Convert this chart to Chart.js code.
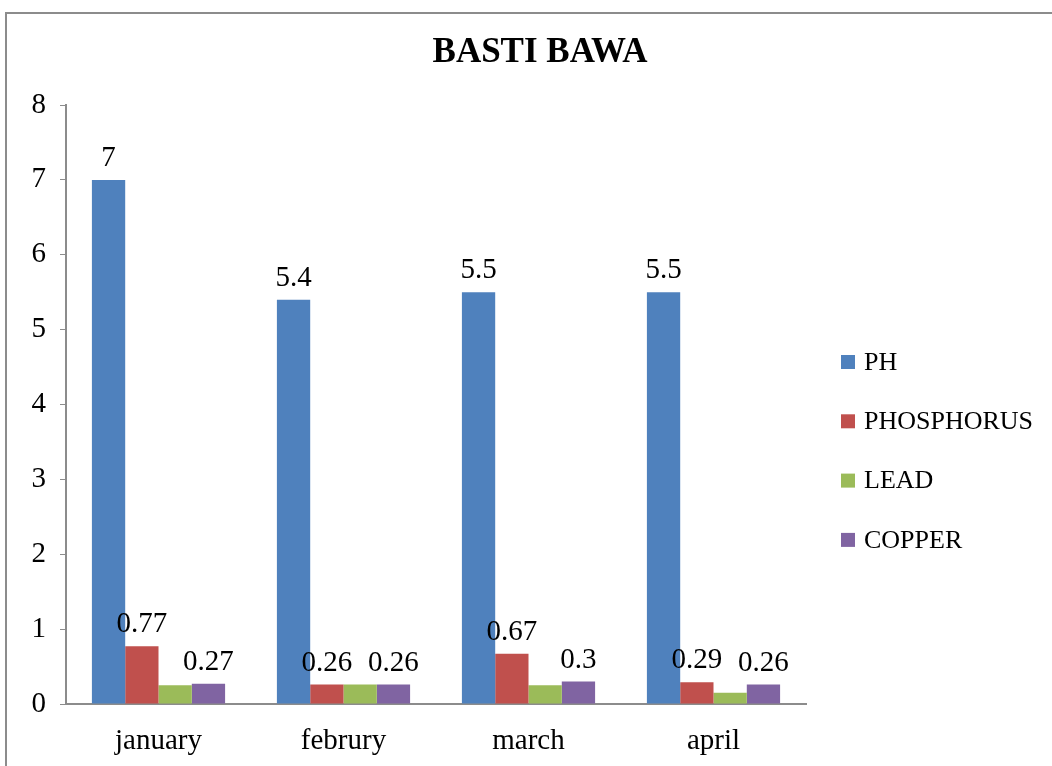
<!DOCTYPE html>
<html>
<head>
<meta charset="utf-8">
<script src="https://cdn.jsdelivr.net/npm/chart.js@4.4.0/dist/chart.umd.min.js"></script>
<style>
    html, body { margin: 0; padding: 0; background: #fff; overflow: hidden; }
    #frame { position: absolute; left: 5px; top: 12px; width: 1100px; height: 800px; border: 2px solid #8c8c8c; box-sizing: border-box; }
    #wrap { position: absolute; left: 0; top: 0; width: 1052px; height: 766px; }
</style>
</head>
<body>
<div id="frame"></div>
<div id="wrap"><canvas id="chart" width="1052" height="766"></canvas></div>
<script>
// Chart data
const categories = ['january', 'februry', 'march', 'april'];
const phValues = [7, 5.4, 5.5, 5.5];
const phosphorusValues = [0.77, 0.26, 0.67, 0.29];
const leadValues = [0.25, 0.26, 0.25, 0.15];
const copperValues = [0.27, 0.26, 0.3, 0.26];
const yTicks = [0, 1, 2, 3, 4, 5, 6, 7, 8];
const chartTitle = 'BASTI BAWA';

const serif = "'Liberation Serif', 'DejaVu Serif', serif";

// Title centred on the whole picture, not just the plot
const pageTitle = {
    id: 'pageTitle',
    afterDraw(chart) {
        const ctx = chart.ctx;
        ctx.save();
        ctx.font = 'bold 35px ' + serif;
        ctx.fillStyle = '#000';
        ctx.textAlign = 'center';
        ctx.textBaseline = 'middle';
        ctx.fillText(chartTitle, 540, 53);
        ctx.restore();
    }
};

// Value labels above bars (LEAD has no labels in the original)
const valueLabels = {
    id: 'valueLabels',
    afterDatasetsDraw(chart) {
        const ctx = chart.ctx;
        ctx.save();
        ctx.font = '29px ' + serif;
        ctx.fillStyle = '#000';
        ctx.textAlign = 'center';
        ctx.textBaseline = 'bottom';
        chart.data.datasets.forEach((ds, i) => {
            if (!ds.showLabels) return;
            chart.getDatasetMeta(i).data.forEach((bar, j) => {
                ctx.fillText(String(ds.data[j]), bar.x, bar.y - 7);
            });
        });
        ctx.restore();
    }
};

// Legend on the right, drawn by hand to match spacing
const sideLegend = {
    id: 'sideLegend',
    afterDraw(chart) {
        const ctx = chart.ctx;
        ctx.save();
        ctx.font = '26px ' + serif;
        ctx.textBaseline = 'middle';
        chart.data.datasets.forEach((ds, i) => {
            const y = 362 + i * 59.3;
            ctx.fillStyle = ds.backgroundColor;
            ctx.fillRect(841, y - 7, 14, 14);
            ctx.fillStyle = '#000';
            ctx.fillText(ds.label, 864, y + 1);
        });
        ctx.restore();
    }
};

const ctx = document.getElementById('chart').getContext('2d');
new Chart(ctx, {
    type: 'bar',
    data: {
        labels: categories,
        datasets: [
            { label: 'PH', data: phValues, backgroundColor: '#4F81BD', showLabels: true },
            { label: 'PHOSPHORUS', data: phosphorusValues, backgroundColor: '#C0504D', showLabels: true },
            { label: 'LEAD', data: leadValues, backgroundColor: '#9BBB59', showLabels: false },
            { label: 'COPPER', data: copperValues, backgroundColor: '#8064A2', showLabels: true }
        ]
    },
    options: {
        responsive: false,
        animation: false,
        devicePixelRatio: 1,
        layout: { padding: { left: 0, right: 246, top: 105, bottom: 0 } },
        datasets: {
            bar: { categoryPercentage: 0.72, barPercentage: 1.0 }
        },
        plugins: {
            legend: { display: false },
            tooltip: { enabled: false },
            title: { display: false }
        },
        scales: {
            x: {
                grid: { display: true, drawOnChartArea: false, drawTicks: false },
                border: { display: true, color: '#8c8c8c', width: 2 },
                ticks: {
                    color: '#000',
                    font: { family: serif, size: 29 },
                    padding: 20
                },
                afterFit(scale) { scale.height = 62; }
            },
            y: {
                min: 0,
                max: 8,
                afterBuildTicks(scale) { scale.ticks = yTicks.map(v => ({ value: v })); },
                grid: { display: true, drawOnChartArea: false, drawTicks: true, tickLength: 6, color: '#8c8c8c' },
                border: { display: true, color: '#8c8c8c', width: 2 },
                ticks: {
                    color: '#000',
                    font: { family: serif, size: 29 },
                    padding: 14
                },
                afterFit(scale) { scale.width = 66; }
            }
        }
    },
    plugins: [valueLabels, sideLegend, pageTitle]
});
</script>
</body>
</html>
